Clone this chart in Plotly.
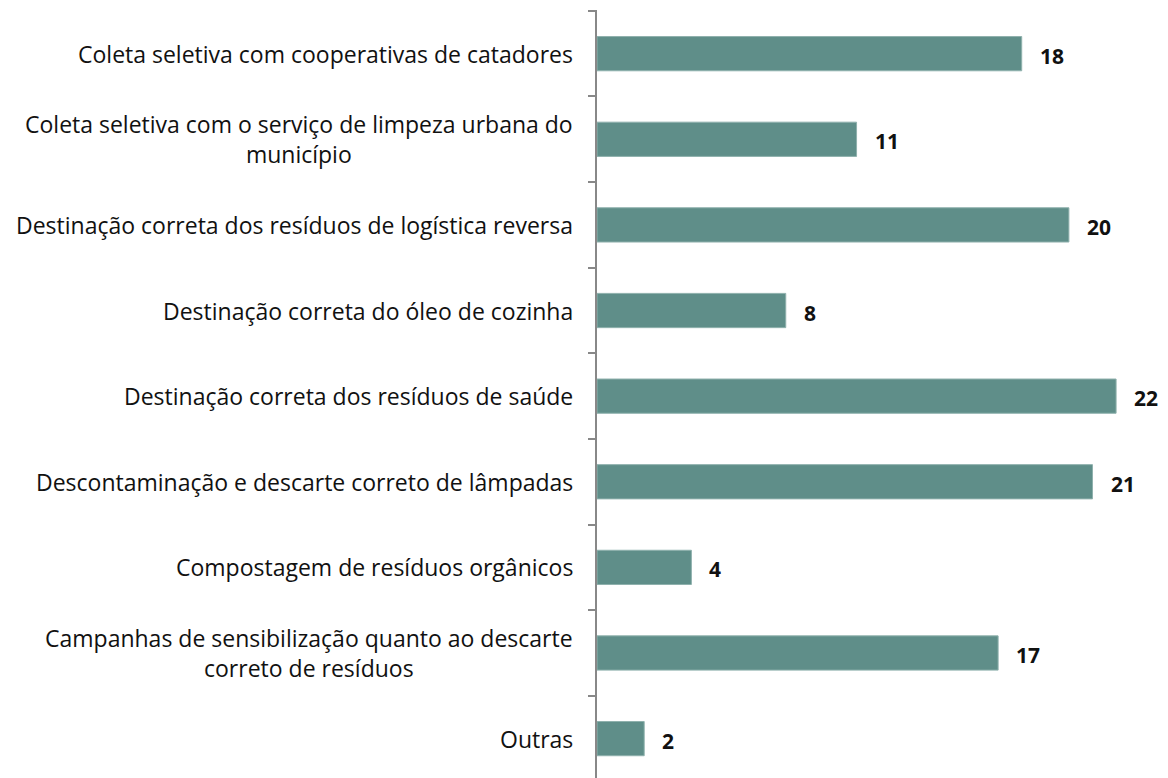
import plotly.graph_objects as go

categories = [
    "Coleta seletiva com cooperativas de catadores",
    "Coleta seletiva com o serviço de limpeza urbana do<br>município",
    "Destinação correta dos resíduos de logística reversa",
    "Destinação correta do óleo de cozinha",
    "Destinação correta dos resíduos de saúde",
    "Descontaminação e descarte correto de lâmpadas",
    "Compostagem de resíduos orgânicos",
    "Campanhas de sensibilização quanto ao descarte<br>correto de resíduos",
    "Outras",
]
values = [18, 11, 20, 8, 22, 21, 4, 17, 2]

positions = list(range(len(categories)))
FONT = "'Open Sans', sans-serif"

fig = go.Figure()
fig.add_trace(go.Bar(
    x=values, y=positions, orientation="h",
    marker=dict(color="#5F8E89", line=dict(color="#8FB1AD", width=1)),
    width=0.4, hoverinfo="skip",
))

annotations = []
for p, c in zip(positions, categories):
    annotations.append(dict(
        x=0, xref="paper", y=p, yref="y", text=c, showarrow=False,
        xanchor="right", yanchor="middle", align="center", xshift=-22,
        font=dict(family=FONT, size=23, color="#111111"),
    ))
for p, v in zip(positions, values):
    annotations.append(dict(
        x=v, xref="x", y=p, yref="y", text=f"<b>{v}</b>", showarrow=False,
        xanchor="left", yanchor="middle", xshift=16, yshift=-2,
        font=dict(family=FONT, size=21, color="#111111"),
    ))

boundaries = [i - 0.5 for i in range(len(categories) + 1)]
fig.update_layout(
    width=1160, height=770,
    margin=dict(l=589, r=0, t=2, b=0),
    paper_bgcolor="white", plot_bgcolor="white",
    showlegend=False,
    annotations=annotations,
    xaxis=dict(range=[0, 24.2], visible=False, fixedrange=True),
    yaxis=dict(
        range=[8.46, -0.51], tickmode="array", tickvals=boundaries,
        ticktext=["" for _ in boundaries], ticks="outside", ticklen=7,
        tickcolor="#888888", tickwidth=1.5, showline=True, linecolor="#888888",
        linewidth=1.5, showgrid=False, zeroline=False,
    ),
)
fig.write_html("out.html")
